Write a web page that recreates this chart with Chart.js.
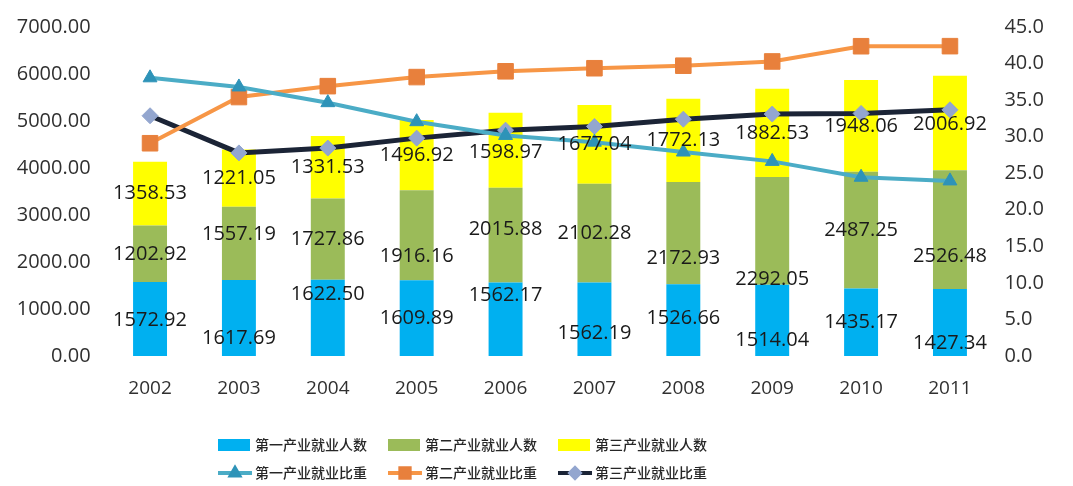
<!DOCTYPE html>
<html>
<head>
<meta charset="utf-8">
<script src="https://cdn.jsdelivr.net/npm/chart.js@4/dist/chart.umd.min.js"></script>
<style>
  html, body { margin: 0; padding: 0; background: #fff; }
  #wrap { width: 1073px; height: 486px; }
</style>
</head>
<body>
<div id="wrap"><canvas id="c" width="1073" height="486"></canvas></div>
<script>
// years and employment (10k persons) by sector
var years = ['2002', '2003', '2004', '2005', '2006', '2007', '2008', '2009', '2010', '2011'];
var primaryNum   = [1572.92, 1617.69, 1622.50, 1609.89, 1562.17, 1562.19, 1526.66, 1514.04, 1435.17, 1427.34];
var secondaryNum = [1202.92, 1557.19, 1727.86, 1916.16, 2015.88, 2102.28, 2172.93, 2292.05, 2487.25, 2526.48];
var tertiaryNum  = [1358.53, 1221.05, 1331.53, 1496.92, 1598.97, 1677.04, 1772.13, 1882.53, 1948.06, 2006.92];
// shares (%), right axis
var primaryPct   = [38.05, 36.80, 34.65, 32.05, 30.17, 29.25, 27.90, 26.62, 24.45, 23.95];
var secondaryPct = [29.10, 35.42, 36.91, 38.15, 38.94, 39.36, 39.71, 40.29, 42.37, 42.38];
var tertiaryPct  = [32.86, 27.78, 28.44, 29.80, 30.89, 31.40, 32.39, 33.09, 33.18, 33.67];

var names = ['第一产业就业人数', '第二产业就业人数', '第三产业就业人数',
             '第一产业就业比重', '第二产业就业比重', '第三产业就业比重'];

var FONT = '"Open Sans", "Liberation Sans", sans-serif';
var CJK = '"Noto Sans CJK SC", sans-serif';

// label nudges (px) so numbers sit where the original put them
var labelShift = {
  0: [1, 20, -24, 0, -24, 14, -2, 20, 0, 21],
  1: [0, -9, 0, 21, -6, 0, 25, 48, 0, 27],
  2: [0, 0, 0, 0, 2, 0, 0, 0, 0, 1]
};

var segLabels = {
  id: 'segLabels',
  afterDatasetsDraw: function(chart) {
    var ctx = chart.ctx;
    ctx.save();
    ctx.font = '20px ' + FONT;
    ctx.fillStyle = '#1a1a1a';
    ctx.textAlign = 'center';
    ctx.textBaseline = 'middle';
    chart.data.datasets.forEach(function(ds, di) {
      if (ds.type !== 'bar') return;
      var meta = chart.getDatasetMeta(di);
      var sh = labelShift[di] || [];
      meta.data.forEach(function(bar, i) {
        var p = bar.getProps(['x', 'y', 'base'], true);
        ctx.fillText(ds.data[i].toFixed(2), p.x, (p.y + p.base) / 2 + (sh[i] || 0));
      });
    });
    ctx.restore();
  }
};

var legendBox = {
  id: 'legendBox',
  afterDraw: function(chart) {
    var ctx = chart.ctx;
    var cols = [218, 388, 558];
    var rows = [445, 473];
    ctx.save();
    chart.data.datasets.forEach(function(ds, di) {
      var x = cols[di % 3], y = rows[Math.floor(di / 3)];
      if (ds.type === 'bar') {
        ctx.fillStyle = ds.backgroundColor;
        ctx.fillRect(x, y - 6, 32, 12);
      } else {
        ctx.strokeStyle = ds.borderColor;
        ctx.lineWidth = 4;
        ctx.beginPath();
        ctx.moveTo(x, y);
        ctx.lineTo(x + 34, y);
        ctx.stroke();
        ctx.fillStyle = ds.pointBackgroundColor;
        ctx.strokeStyle = ds.pointBorderColor;
        Chart.helpers.drawPoint(ctx, {pointStyle: ds.pointStyle, radius: ds.pointRadius * 0.6, rotation: 0, borderWidth: 1}, x + 17, y);
      }
      ctx.fillStyle = '#262626';
      ctx.font = '500 14px ' + CJK;
      ctx.textAlign = 'left';
      ctx.textBaseline = 'middle';
      ctx.fillText(ds.label, x + 37, y);
    });
    ctx.restore();
  }
};

function lineSet(label, data, color, style, radius, ptColor, width) {
  return {
    type: 'line', label: label, data: data, yAxisID: 'y1', order: 0,
    borderColor: color, borderWidth: width, tension: 0,
    pointStyle: style, pointRadius: radius, pointHoverRadius: radius,
    pointBackgroundColor: ptColor, pointBorderColor: ptColor, pointBorderWidth: 1
  };
}

function barSet(label, data, color) {
  return {
    type: 'bar', label: label, data: data, yAxisID: 'y', order: 1,
    backgroundColor: color, barPercentage: 0.382, categoryPercentage: 1
  };
}

new Chart(document.getElementById('c').getContext('2d'), {
  data: {
    labels: years,
    datasets: [
      barSet(names[0], primaryNum, '#00B0F0'),
      barSet(names[1], secondaryNum, '#9BBB59'),
      barSet(names[2], tertiaryNum, '#FFFF00'),
      lineSet(names[3], primaryPct, '#4BACC6', 'triangle', 8, '#2E93B8', 4),
      lineSet(names[4], secondaryPct, '#F79646', 'rect', 11, '#E8803C', 4),
      lineSet(names[5], tertiaryPct, '#1B2436', 'rectRot', 8, '#93A6CF', 5)
    ]
  },
  options: {
    responsive: false,
    animation: false,
    layout: { padding: { top: 24, left: 0, right: 0, bottom: 0 } },
    plugins: { legend: { display: false }, tooltip: { enabled: false } },
    scales: {
      x: {
        stacked: true,
        grid: { display: false, drawTicks: false },
        border: { display: false },
        ticks: { color: '#303030', font: { family: FONT, size: 19 }, padding: 21 },
        afterFit: function(s) { s.height = 130; }
      },
      y: {
        stacked: true, position: 'left', min: 0, max: 7000,
        grid: { display: false, drawTicks: false },
        border: { display: false },
        ticks: { stepSize: 1000, color: '#303030', font: { family: FONT, size: 20 }, padding: 15,
                 callback: function(v) { return v.toFixed(2); } },
        afterFit: function(s) { s.width = 105.6; }
      },
      y1: {
        position: 'right', min: 0, max: 45,
        grid: { display: false, drawTicks: false },
        border: { display: false },
        ticks: { stepSize: 5, color: '#303030', font: { family: FONT, size: 20 }, padding: 10,
                 callback: function(v) { return v.toFixed(1); } },
        afterFit: function(s) { s.width = 78.6; }
      }
    }
  },
  plugins: [segLabels, legendBox]
});
</script>
</body>
</html>
